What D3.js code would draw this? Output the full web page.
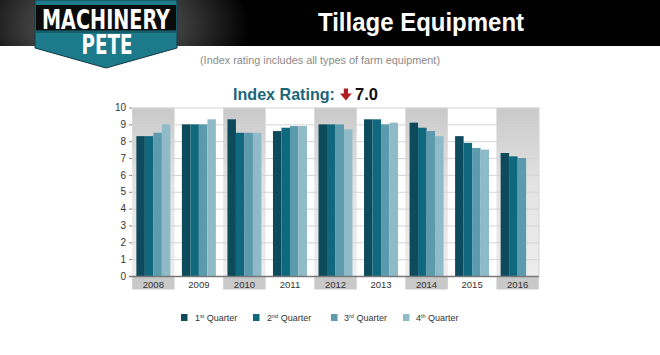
<!DOCTYPE html>
<html><head><meta charset="utf-8">
<script src="https://cdn.jsdelivr.net/npm/d3@7"></script>
<style>html,body{margin:0;padding:0;background:#fff;}svg{display:block}</style>
</head><body>
<svg id="c" width="660" height="355"></svg>
<script>
// ---- data ----
const years = ["2008","2009","2010","2011","2012","2013","2014","2015","2016"];
const quarterNums = ["1","2","3","4"];
const quarterSups = ["st","nd","rd","th"];
const q1 = [8.3, 9.0, 9.3, 8.6, 9.0, 9.3, 9.1, 8.3, 7.3];
const q2 = [8.3, 9.0, 8.5, 8.8, 9.0, 9.3, 8.8, 7.9, 7.1];
const q3 = [8.5, 9.0, 8.5, 8.9, 9.0, 9.0, 8.6, 7.6, 7.0];
const q4 = [9.0, 9.3, 8.5, 8.9, 8.7, 9.1, 8.3, 7.5, null];
const yTicks = [0,1,2,3,4,5,6,7,8,9,10];
const indexValue = "7.0";

const series = [q1, q2, q3, q4];
const colors = ["#0d4a5c", "#0f687d", "#5c9bae", "#8fbbc8"];

const svg = d3.select("#c");
const defs = svg.append("defs");

// ---- header ----
const rg = defs.append("radialGradient").attr("id","hdrGlow")
  .attr("cx","0.5").attr("cy","0.5").attr("r","0.5");
rg.append("stop").attr("offset","0%").attr("stop-color","#6a6a6a");
rg.append("stop").attr("offset","55%").attr("stop-color","#3a3a3a");
rg.append("stop").attr("offset","100%").attr("stop-color","#000");
defs.append("clipPath").attr("id","hdrClip").append("rect")
  .attr("x",0).attr("y",0).attr("width",660).attr("height",46);
svg.append("rect").attr("x",0).attr("y",0).attr("width",660).attr("height",46).attr("fill","#000");
svg.append("rect").attr("x",-40).attr("y",-60).attr("width",290).attr("height",170)
  .attr("fill","url(#hdrGlow)").attr("clip-path","url(#hdrClip)");

// logo
const lg = svg.append("g");
lg.append("path").attr("d","M35,0 L177,0 L177,48 L106,68 L35,48 Z")
  .attr("fill","#1c7a8a").attr("stroke","#123c46").attr("stroke-width",1);
lg.append("rect").attr("x",36).attr("y",5).attr("width",140).attr("height",25.5).attr("fill","#0b0b0b");
lg.append("line").attr("x1",36).attr("x2",176).attr("y1",32).attr("y2",32)
  .attr("stroke","#0e4450").attr("stroke-width",1);
lg.append("text").attr("x",106).attr("y",29).attr("text-anchor","middle")
  .attr("font-family","'DejaVu Sans Condensed','DejaVu Sans',sans-serif").attr("font-weight","bold")
  .attr("font-size",27).attr("fill","#fff")
  .attr("textLength",128).attr("lengthAdjust","spacingAndGlyphs").text("MACHINERY");
lg.append("text").attr("x",107).attr("y",54).attr("text-anchor","middle")
  .attr("font-family","'DejaVu Sans Condensed','DejaVu Sans',sans-serif").attr("font-weight","bold")
  .attr("font-size",26).attr("fill","#fff")
  .attr("textLength",51).attr("lengthAdjust","spacingAndGlyphs").text("PETE");

svg.append("text").attr("x",421).attr("y",31).attr("text-anchor","middle")
  .attr("font-family","'Liberation Sans',Arial,sans-serif").attr("font-weight","bold")
  .attr("font-size",25).attr("fill","#fff")
  .attr("textLength",206).attr("lengthAdjust","spacingAndGlyphs").text("Tillage Equipment");

svg.append("text").attr("x",320).attr("y",64).attr("text-anchor","middle")
  .attr("font-family","'Liberation Sans',Arial,sans-serif")
  .attr("font-size",11).attr("fill","#8a8a8a")
  .attr("textLength",240).attr("lengthAdjust","spacingAndGlyphs")
  .text("(Index rating includes all types of farm equipment)");

// index rating
svg.append("text").attr("x",233).attr("y",100)
  .attr("font-family","'Liberation Sans',Arial,sans-serif").attr("font-weight","bold")
  .attr("font-size",16.5).attr("fill","#1b6579")
  .attr("textLength",102).attr("lengthAdjust","spacingAndGlyphs").text("Index Rating:");
svg.append("path")
  .attr("d","M343.8,88.5 L348,88.5 L348,93.5 L351.8,93.5 L345.9,100.5 L340,93.5 L343.8,93.5 Z")
  .attr("fill","#b01e24");
svg.append("text").attr("x",355).attr("y",100)
  .attr("font-family","'Liberation Sans',Arial,sans-serif").attr("font-weight","bold")
  .attr("font-size",16.5).attr("fill","#111").text(indexValue);

// ---- chart ----
const pL = 132, pR = 539, pT = 107.5, pB = 276;
const x = d3.scaleBand().domain(years).range([130.6, 540.4]);
const groupW = 34;
const xq = d3.scaleBand().domain(d3.range(series.length)).range([0, groupW]);
const y = d3.scaleLinear().domain([0,10]).range([pB, pT]);

defs.append("clipPath").attr("id","plotClip").append("rect")
  .attr("x",pL).attr("y",pT).attr("width",pR-pL).attr("height",pB-pT+14);

const lgr = defs.append("linearGradient").attr("id","bandGrad").attr("x1",0).attr("x2",0).attr("y1",0).attr("y2",1);
lgr.append("stop").attr("offset","0%").attr("stop-color","#c9c9c9");
lgr.append("stop").attr("offset","45%").attr("stop-color","#e3e3e3");
lgr.append("stop").attr("offset","100%").attr("stop-color","#ededed");

const bandW = 42.4;
const bg = svg.append("g").attr("clip-path","url(#plotClip)");
bg.selectAll("rect.band").data(years.filter((d,i)=>i%2===0)).join("rect")
  .attr("class","band")
  .attr("x", d => x(d) + x.bandwidth()/2 - bandW/2)
  .attr("width", bandW)
  .attr("y", pT).attr("height", pB-pT)
  .attr("fill","url(#bandGrad)");
bg.selectAll("rect.lab").data(years.filter((d,i)=>i%2===0)).join("rect")
  .attr("class","lab")
  .attr("x", d => x(d) + x.bandwidth()/2 - bandW/2)
  .attr("width", bandW)
  .attr("y", pB+1).attr("height", 12.5)
  .attr("fill","#c9c9c9");

// gridlines
const grid = svg.append("g").attr("transform",`translate(${pL},0)`)
  .call(d3.axisLeft(y).tickValues(yTicks).tickSize(-(pR-pL)).tickFormat(""));
grid.select(".domain").remove();
grid.selectAll("line").attr("stroke","#d4d4d4").attr("stroke-width",1);

// right border
svg.append("line").attr("x1",pR).attr("x2",pR).attr("y1",pT).attr("y2",pB)
  .attr("stroke","#d0d0d0");

// y axis
const ya = svg.append("g").attr("transform",`translate(${pL},0)`)
  .call(d3.axisLeft(y).tickValues(yTicks).tickSize(3).tickPadding(3));
ya.select(".domain").remove();
ya.selectAll("line").attr("stroke","#8a8a8a");
ya.selectAll("text").attr("font-family","'Liberation Sans',Arial,sans-serif")
  .attr("font-size",10).attr("fill","#333");

// bars
const groups = svg.append("g").selectAll("g").data(years).join("g")
  .attr("transform", d => `translate(${x(d) + (x.bandwidth()-groupW)/2},0)`);
groups.selectAll("rect").data((d,i) => series.map((s,k) => ({k, v: s[i]})).filter(o => o.v != null))
  .join("rect")
  .attr("x", o => xq(o.k))
  .attr("width", xq.bandwidth())
  .attr("y", o => y(o.v))
  .attr("height", o => y(0) - y(o.v))
  .attr("fill", o => colors[o.k]);

// x axis
const xa = svg.append("g").attr("transform",`translate(0,${pB})`)
  .call(d3.axisBottom(x).tickSize(0).tickPadding(5));
xa.select(".domain").remove();
xa.selectAll("text").attr("font-family","'Liberation Sans',Arial,sans-serif")
  .attr("font-size",9.5).attr("fill","#333");
svg.append("line").attr("x1",pL-3).attr("x2",pR).attr("y1",pB+0.5).attr("y2",pB+0.5)
  .attr("stroke","#777").attr("stroke-width",1.3);

// legend
const legX = [181, 253, 331, 403];
const leg = svg.append("g").selectAll("g").data(quarterNums).join("g")
  .attr("transform",(d,i)=>`translate(${legX[i]},314)`);
leg.append("rect").attr("width",6.5).attr("height",7).attr("fill",(d,i)=>colors[i]);
const lt = leg.append("text").attr("x",(d,i)=> i===2||i===3 ? 13 : 14).attr("y",7)
  .attr("font-family","'Liberation Sans',Arial,sans-serif").attr("font-size",9).attr("fill","#333");
lt.append("tspan").text(d=>d);
lt.append("tspan").attr("font-size",5.5).attr("dy",-3.5).text((d,i)=>quarterSups[i]);
lt.append("tspan").attr("dy",3.5).text(" Quarter");
</script>
</body></html>
